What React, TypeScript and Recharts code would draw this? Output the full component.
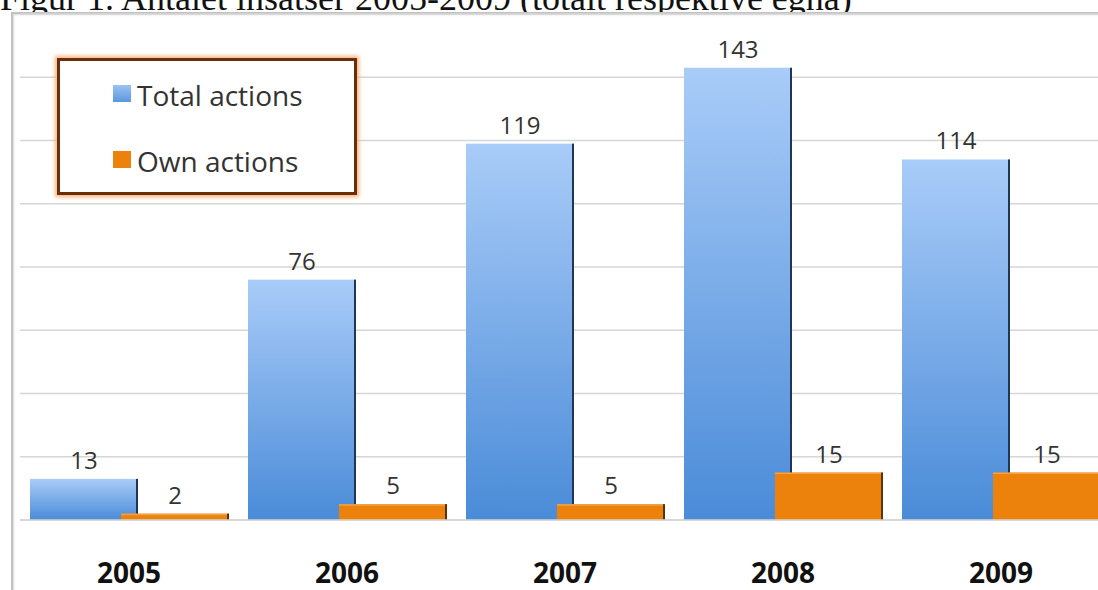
import { BarChart, Bar, XAxis, YAxis, CartesianGrid, Legend, LabelList } from "recharts";

const years = ["2005", "2006", "2007", "2008", "2009"];
const totalActions = [13, 76, 119, 143, 114];
const ownActions = [2, 5, 5, 15, 15];
const yTicks = [0, 20, 40, 60, 80, 100, 120, 140, 160];

const data = years.map((year, i) => ({ year, total: totalActions[i], own: ownActions[i] }));

const SANS = "'Open Sans', 'DejaVu Sans', sans-serif";

function BlueBar(p: any) {
  const { x, y, width, height } = p;
  if (!height) return null;
  return (
    <g>
      <rect x={x} y={y} width={width} height={height} fill="url(#blueGrad)" />
      <rect x={x + width - 2} y={y} width={2} height={height} fill="#1f3656" />
    </g>
  );
}

function OrangeBar(p: any) {
  const { x, y, width, height } = p;
  if (!height) return null;
  return (
    <g>
      <rect x={x} y={y} width={width} height={height} fill="#ec820c" />
      <rect x={x} y={y} width={width} height={1.5} fill="#f3a24a" />
      <rect x={x + width - 2} y={y} width={2} height={height} fill="#5a3206" />
    </g>
  );
}

function YearTick(p: any) {
  const { x, y, payload } = p;
  return (
    <text x={x} y={y} textAnchor="middle" fontFamily={SANS} fontWeight={700} fontSize={28} fill="#111">
      {payload.value}
    </text>
  );
}

function LegendBox() {
  const item = (top: number, color: string, label: string) => (
    <>
      <div style={{ position: "absolute", left: 53, top: top + 4, width: 18, height: 17, background: color }} />
      <div style={{ position: "absolute", left: 77, top, fontSize: 28, lineHeight: "28px", color: "#333", whiteSpace: "nowrap" }}>
        {label}
      </div>
    </>
  );
  return (
    <div
      style={{
        position: "relative",
        width: 300,
        height: 137,
        boxSizing: "border-box",
        border: "3px solid #6a2e0b",
        boxShadow: "0 0 4px 2px #f6b27a",
        background: "#fff",
        fontFamily: SANS,
      }}
    >
      {item(20, "linear-gradient(#9cc3f3, #5b97de)", "Total actions")}
      {item(86, "#ec820c", "Own actions")}
    </div>
  );
}

export default function App() {
  return (
    <div style={{ position: "absolute", left: 0, top: 0, width: 1098, height: 590, overflow: "hidden", background: "#fff" }}>
      <div
        style={{
          position: "absolute",
          left: 0,
          top: -20,
          fontFamily: "'Liberation Serif', serif",
          fontSize: 36,
          lineHeight: "36px",
          color: "#111",
          whiteSpace: "nowrap",
        }}
      >
        Figur 1. Antalet insatser 2005-2009 (totalt respektive egna)
      </div>
      <div
        style={{
          position: "absolute",
          left: 11,
          top: 12,
          width: 1200,
          height: 700,
          borderLeft: "2px solid #c2c2c2",
          borderTop: "2px solid #c2c2c2",
          background: "#fff",
          boxShadow: "1px 1px 2px rgba(0,0,0,0.15) inset",
        }}
      />
      <div style={{ position: "absolute", left: 0, top: 0 }}>
        <BarChart
          width={1130}
          height={590}
          data={data}
          margin={{ top: 14, right: 20, bottom: 0, left: 20 }}
          barCategoryGap={10}
          barGap={-17}
        >
          <defs>
            <linearGradient id="blueGrad" x1="0" y1="0" x2="0" y2="1">
              <stop offset="0%" stopColor="#a9ccf8" />
              <stop offset="100%" stopColor="#4a8bd8" />
            </linearGradient>
          </defs>
          <CartesianGrid vertical={false} stroke="#d6d6d6" strokeWidth={1.5} />
          <YAxis hide domain={[0, 160]} ticks={yTicks} />
          <XAxis
            dataKey="year"
            height={70}
            tickSize={0}
            tickMargin={63}
            tickLine={false}
            axisLine={{ stroke: "#d6d6d6", strokeWidth: 1.5 }}
            tick={<YearTick />}
            interval={0}
          />
          <Legend
            verticalAlign="middle"
            align="center"
            layout="horizontal"
            wrapperStyle={{ left: 57, top: 58, width: 300, height: 137 }}
            content={() => <LegendBox />}
          />
          <Bar dataKey="total" name="Total actions" shape={<BlueBar />} isAnimationActive={false}>
            <LabelList dataKey="total" position="top" offset={10} fontFamily={SANS} fontSize={24} fill="#333" />
          </Bar>
          <Bar dataKey="own" name="Own actions" shape={<OrangeBar />} isAnimationActive={false}>
            <LabelList dataKey="own" position="top" offset={10} fontFamily={SANS} fontSize={24} fill="#333" />
          </Bar>
        </BarChart>
      </div>
    </div>
  );
}
